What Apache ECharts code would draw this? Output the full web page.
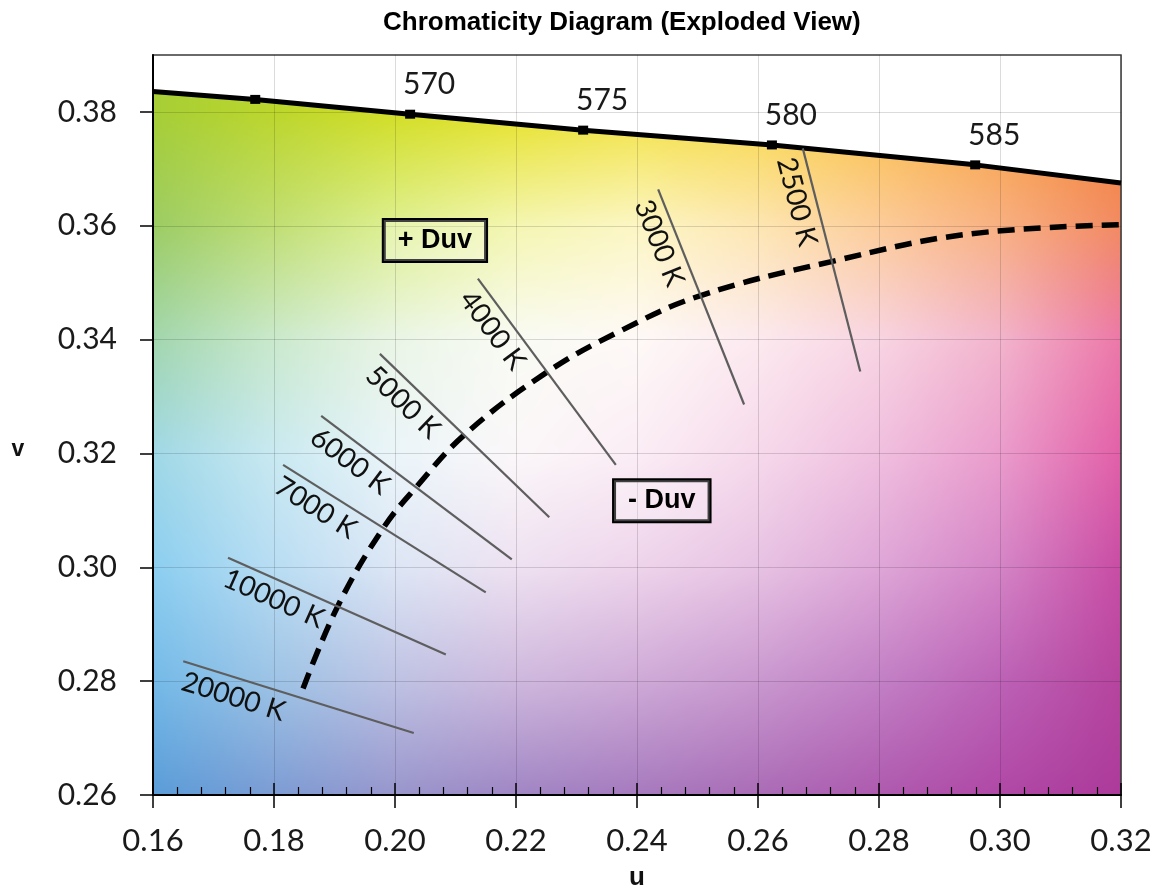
<!DOCTYPE html>
<html><head><meta charset="utf-8">
<script src="https://cdn.jsdelivr.net/npm/echarts@6/dist/echarts.min.js"></script>
<style>html,body{margin:0;padding:0;background:#fff}#c{width:1159px;height:894px}</style>
</head><body><div id="c"></div>
<script>
const titleText = 'Chromaticity Diagram (Exploded View)';
const uName = 'u';
const vName = 'v';
const uRange = [0.16, 0.32];
const vRange = [0.26, 0.39];
const uTicks = [0.16, 0.18, 0.20, 0.22, 0.24, 0.26, 0.28, 0.30, 0.32];
const vTicks = [0.26, 0.28, 0.30, 0.32, 0.34, 0.36, 0.38];

// spectral locus (solid)
const locusU = [0.160, 0.1769, 0.2025, 0.2311, 0.2623, 0.2959, 0.320];
const locusV = [0.3836, 0.3822, 0.3796, 0.3768, 0.3742, 0.3707, 0.3675];
// wavelength markers
const markerU = [0.1769, 0.2025, 0.2311, 0.2623, 0.2959];
const markerV = [0.3822, 0.3796, 0.3768, 0.3742, 0.3707];
const markerNm = ['', '570', '575', '580', '585'];

// Planckian locus (dashed)
const planckU = [0.1848, 0.1906, 0.1980, 0.2036, 0.2116, 0.2250, 0.2372, 0.2504, 0.2725, 0.2945, 0.3200];
const planckV = [0.2787, 0.2933, 0.3068, 0.3142, 0.3234, 0.3342, 0.3415, 0.3477, 0.3538, 0.3585, 0.3602];

// isotherms (CCT lines)
const isoNames = ['20000 K', '10000 K', '7000 K', '6000 K', '5000 K', '4000 K', '3000 K', '2500 K'];
const isoU1 = [0.1650, 0.1724, 0.1815, 0.1878, 0.1975, 0.2137, 0.2435, 0.2674];
const isoV1 = [0.2835, 0.3017, 0.3180, 0.3266, 0.3375, 0.3507, 0.3664, 0.3736];
const isoU2 = [0.2031, 0.2084, 0.2150, 0.2193, 0.2255, 0.2365, 0.2577, 0.2769];
const isoV2 = [0.2709, 0.2847, 0.2956, 0.3014, 0.3088, 0.3180, 0.3286, 0.3344];

// Duv annotations
const duvNames = ['+ Duv', '- Duv'];
const duvU = [0.2066, 0.2441];
const duvV = [0.3574, 0.3117];

// background colour anchors (style only): columns at uTicks, rows at bgV
const bgV = [0.38, 0.36, 0.34, 0.32, 0.30, 0.28, 0.26];
const bgColors = [
  ['#a6ce36','#bcd62c','#d2de26','#e6e22c','#f2e244','#f8d84a','#fac04a','#f8a442','#f48434'],
  ['#9ccc64','#c0de74','#def092','#f4f6b2','#fcf6c4','#fde6b2','#fccc9a','#f8b082','#f28a62'],
  ['#a2d6ae','#cae9cc','#eaf5e6','#f9fbf4','#fef9f7','#fce9ef','#f8d4e2','#f2b4cc','#ec78a8'],
  ['#a0d8e6','#c9e9f1','#ebf5f9','#fbf7f9','#fbedf5','#f6d9eb','#f0bfdf','#ea9ccc','#e260a8'],
  ['#8ccef0','#b8ddf3','#dde6f5','#eee1f1','#eed4eb','#e7c2e3','#dea6d7','#d484c6','#c84ca4'],
  ['#74bae8','#9dc3e5','#bec2e3','#ceb8dd','#ceaad7','#c998cf','#c280c5','#bc62b6','#b6449e'],
  ['#5a9cd8','#7c9cd4','#9896cc','#a086c4','#a67abe','#aa6cb6','#ae5aae','#b048a6','#ac3a9a']
];

const chart = echarts.init(document.getElementById('c'), null, {renderer: 'canvas'});
const fmt2 = v => v.toFixed(2);

const option = {
  animation: false,
  backgroundColor: '#ffffff',
  title: {
    text: titleText, left: 378, top: 5,
    textStyle: {fontFamily: 'Liberation Sans', fontWeight: 'bold', fontSize: 26, color: '#000'}
  },
  grid: {left: 153, right: 38, top: 55, bottom: 99, show: true, borderColor: '#3a3a3a', borderWidth: 1.5,
         backgroundColor: 'transparent', outerBoundsMode: 'none', containLabel: false},
  xAxis: [{
    type: 'value', min: uRange[0], max: uRange[1], interval: 0.02, position: 'bottom',
    name: uName, nameLocation: 'middle', nameGap: 70,
    nameTextStyle: {fontFamily: 'Liberation Sans', fontWeight: 'bold', fontSize: 26, color: '#111'},
    axisLine: {show: true, onZero: false, lineStyle: {color: '#000', width: 2}},
    axisTick: {show: true, inside: true, length: 12, lineStyle: {color: '#000', width: 1.5}},
    minorTick: {show: true, splitNumber: 5, length: 8, lineStyle: {color: '#000', width: 1.2}},
    axisLabel: {customValues: uTicks, formatter: fmt2, margin: 30, fontFamily: 'Lato', fontSize: 31, color: '#1a1a1a'},
    splitLine: {show: true, lineStyle: {color: 'rgba(0,0,0,0.14)', width: 1}}
  }, {
    type: 'value', min: uRange[0], max: uRange[1], interval: 0.02, position: 'bottom',
    axisLine: {show: false}, axisLabel: {show: false}, splitLine: {show: false},
    axisTick: {show: true, inside: false, length: 13, lineStyle: {color: '#000', width: 1.5}}
  }],
  yAxis: {
    type: 'value', min: vRange[0], max: vRange[1], interval: 0.02,
    axisLine: {show: true, onZero: false, lineStyle: {color: '#000', width: 2}},
    axisTick: {show: true, inside: false, length: 13, customValues: vTicks, lineStyle: {color: '#000', width: 1.5}},
    axisLabel: {customValues: vTicks, formatter: fmt2, margin: 36, fontFamily: 'Lato', fontSize: 30, color: '#1a1a1a'},
    splitLine: {show: true, lineStyle: {color: 'rgba(0,0,0,0.14)', width: 1}}
  },
  series: [
    {
      name: 'isotherms', type: 'line', data: [], silent: true,
      markLine: {
        silent: true, symbol: ['none', 'none'], animation: false,
        lineStyle: {color: '#5e5e5e', width: 2.2, type: 'solid', opacity: 1},
        label: {show: true, position: 'insideStartBottom', formatter: '{b}', distance: 5,
                fontFamily: 'Lato', fontSize: 28, color: '#111'},
        emphasis: {disabled: true},
        data: isoNames.map((n, i) => [{name: n, coord: [isoU1[i], isoV1[i]]}, {coord: [isoU2[i], isoV2[i]]}])
      }
    },
    {
      name: 'planck', type: 'line', smooth: 0.4, symbol: 'none', silent: true,
      data: planckU.map((u, i) => [u, planckV[i]]),
      lineStyle: {color: '#000', width: 5.5, type: [17, 9]}
    },
    {
      name: 'locus', type: 'line', symbol: 'none', silent: true,
      data: locusU.map((u, i) => [u, locusV[i]]),
      lineStyle: {color: '#000', width: 5}
    },
    {
      name: 'markers', type: 'scatter', symbol: 'rect', symbolSize: [10, 9], silent: true,
      itemStyle: {color: '#000', opacity: 1},
      data: markerU.map((u, i) => ({value: [u, markerV[i]], name: markerNm[i]})),
      label: {show: true, position: 'top', offset: [19, -5], distance: 5, formatter: '{b}',
              fontFamily: 'Lato', fontSize: 30, color: '#1a1a1a', opacity: 1}
    },
    {
      name: 'duv', type: 'scatter', symbolSize: 0, silent: true,
      itemStyle: {opacity: 1},
      data: duvU.map((u, i) => ({value: [u, duvV[i]], name: duvNames[i]})),
      label: {show: true, position: 'inside', formatter: '{b}', opacity: 1,
              fontFamily: 'Liberation Sans', fontWeight: 'bold', fontSize: 27, color: '#000',
              borderColor: '#000', borderWidth: 2, padding: [8, 14, 6, 14], backgroundColor: 'rgba(255,255,255,0.25)'}
    }
  ]
};
chart.setOption(option);

// Background colour field behind the plot, aligned through the axes
function hexToRgb(h) { return [parseInt(h.slice(1,3),16), parseInt(h.slice(3,5),16), parseInt(h.slice(5,7),16)]; }
const toPx = (u, v) => chart.convertToPixel({gridIndex: 0}, [u, v]);
const p0 = toPx(uRange[0], vRange[1]);
const p1 = toPx(uRange[1], vRange[0]);
const W = Math.round(p1[0] - p0[0]), H = Math.round(p1[1] - p0[1]);
const cv = document.createElement('canvas'); cv.width = W; cv.height = H;
const ctx = cv.getContext('2d');
const img = ctx.createImageData(W, H);
const cols = bgColors.map(r => r.map(hexToRgb));
const colX = uTicks.map(u => toPx(u, vRange[0])[0] - p0[0]);
const rowY = bgV.map(v => toPx(uRange[0], v)[1] - p0[1]);
function seg(arr, t) {
  if (t <= arr[0]) return [0, 0];
  for (let i = 0; i < arr.length - 1; i++) {
    if (t <= arr[i + 1]) return [i, (t - arr[i]) / (arr[i + 1] - arr[i])];
  }
  return [arr.length - 2, 1];
}
for (let y = 0; y < H; y++) {
  const [ri, rt] = seg(rowY, y + 0.5);
  for (let x = 0; x < W; x++) {
    const [ci, ct] = seg(colX, x + 0.5);
    const a = cols[ri][ci], b = cols[ri][ci + 1], c = cols[ri + 1][ci], d = cols[ri + 1][ci + 1];
    const k = (y * W + x) * 4;
    for (let ch = 0; ch < 3; ch++) {
      const top = a[ch] + (b[ch] - a[ch]) * ct;
      const bot = c[ch] + (d[ch] - c[ch]) * ct;
      img.data[k + ch] = Math.round(top + (bot - top) * rt);
    }
    img.data[k + 3] = 255;
  }
}
ctx.putImageData(img, 0, 0);
const poly = locusU.map((u, i) => toPx(u, locusV[i]));
poly.push(toPx(uRange[1], vRange[1]));
poly.push(toPx(uRange[0], vRange[1]));
const vNamePos = toPx(uRange[0], 0.32);
chart.setOption({
  graphic: [
    {type: 'image', z: -10, silent: true, style: {image: cv, x: p0[0], y: p0[1], width: W, height: H}},
    {type: 'polygon', z: -5, silent: true, shape: {points: poly}, style: {fill: '#ffffff'}},
    {type: 'text', z: 5, silent: true, x: vNamePos[0] - 135, y: vNamePos[1] - 4,
     style: {text: vName, fontFamily: 'Liberation Sans', fontWeight: 'bold', fontSize: 23, fill: '#111',
             align: 'center', verticalAlign: 'middle'}}
  ]
});
</script>
</body></html>
